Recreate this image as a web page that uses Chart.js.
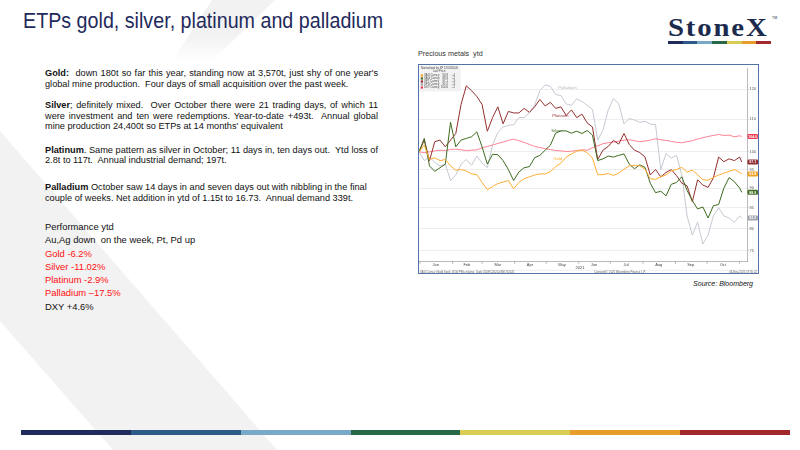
<!DOCTYPE html>
<html>
<head>
<meta charset="utf-8">
<title>ETPs gold, silver, platinum and palladium</title>
<script src="https://cdn.jsdelivr.net/npm/chart.js"></script>
<style>
  body {
    margin: 0;
    width: 800px;
    height: 450px;
    overflow: hidden;
    background: #fff;
    position: relative;
    font-family: "Liberation Sans", Arial, sans-serif;
  }
  #bg { position: absolute; left: 0; top: 0; }
  #title {
    position: absolute; left: 23px; top: 10px;
    font-size: 22px; line-height: 22px; color: #1f2a5c;
    white-space: nowrap; transform: scaleX(0.895); transform-origin: 0 0;
  }
  #logo {
    position: absolute; left: 668px; top: 15px;
    font-family: "Liberation Serif", "DejaVu Serif", serif; font-weight: bold;
    font-size: 25px; line-height: 25px; letter-spacing: 1.6px; color: #1c2b4d;
    white-space: nowrap; transform: scaleX(1.15); transform-origin: 0 0;
  }
  #tm { position: absolute; left: 772px; top: 16px; font-size: 3.5px; color: #1c2b4d; }
  .bar { position: absolute; display: flex; }
  .bar div { flex: 1; }
  .ln {
    position: absolute; left: 45px; width: 333px;
    font-size: 9.2px; line-height: 11px; color: #111; white-space: nowrap;
  }
  .j { text-align: justify; text-align-last: justify; }
  .pf { font-size: 9.4px; line-height: 12px; }
  .red { color: #ff1010; }
  #ctitle { position: absolute; left: 418px; top: 49px; font-size: 7.2px; color: #333; white-space: nowrap; }
  #source { position: absolute; right: 47px; top: 280px; font-size: 7px; font-style: italic; color: #111; }
  #frame {
    position: absolute; left: 418px; top: 64px; width: 341px; height: 210px;
    border: 1px solid #5373a8; box-sizing: border-box; background: #fff;
  }
  #box { position: relative; width: 339px; height: 208px; }
</style>
</head>
<body>
<svg id="bg" width="800" height="450">
  <defs>
    <linearGradient id="fade" x1="0" y1="0" x2="0" y2="1">
      <stop offset="0.6" stop-color="#f2f2f2" stop-opacity="1"/>
      <stop offset="1" stop-color="#f2f2f2" stop-opacity="0"/>
    </linearGradient>
  </defs>
  <polygon points="0,131 277,450 113,450 0,321" fill="#f2f2f2"/>
  <polygon points="212,0 275,0 213,60 173,60" fill="url(#fade)"/>
</svg>

<div id="title">ETPs gold, silver, platinum and palladium</div>

<div id="logo">StoneX</div>
<div id="tm">TM</div>
<div class="bar" style="left:668px;top:41px;width:103px;height:2.5px">
  <div style="background:#1f2b5b"></div><div style="background:#2e5a8a"></div><div style="background:#7aa8c8"></div>
  <div style="background:#276848"></div><div style="background:#d9cc55"></div><div style="background:#e79d2c"></div>
  <div style="background:#a3282d"></div>
</div>

<div class="ln j" style="top:67.8px"><b>Gold:</b>&nbsp; down 180t so far this year, standing now at 3,570t, just shy of one year's</div>
<div class="ln" style="top:78.5px">global mine production.&nbsp; Four days of small acquisition over the past week.</div>

<div class="ln j" style="top:99.5px"><b>Silver</b>; definitely mixed.&nbsp; Over October there were 21 trading days, of which 11</div>
<div class="ln j" style="top:110.5px">were investment and ten were redemptions. Year-to-date +493t.&nbsp; Annual global</div>
<div class="ln" style="top:121.2px">mine production 24,400t so ETPs at 14 months' equivalent</div>

<div class="ln j" style="top:144.5px"><b>Platinum</b>. Same pattern as silver in October; 11 days in, ten days out.&nbsp; Ytd loss of</div>
<div class="ln" style="top:155px">2.8t to 117t.&nbsp; Annual industrial demand; 197t.</div>

<div class="ln" style="top:182.3px"><b>Palladium</b> October saw 14 days in and seven days out with nibbling in the final</div>
<div class="ln" style="top:193px">couple of weeks. Net addition in ytd of 1.15t to 16.73.&nbsp; Annual demand 339t.</div>

<div class="ln pf" style="top:220.9px">Performance ytd</div>
<div class="ln pf" style="top:234.2px">Au,Ag down&nbsp; on the week, Pt, Pd up</div>
<div class="ln pf red" style="top:247.5px">Gold -6.2%</div>
<div class="ln pf red" style="top:260.8px">Silver -11.02%</div>
<div class="ln pf red" style="top:274.1px">Platinum -2.9%</div>
<div class="ln pf red" style="top:287.4px">Palladium –17.5%</div>
<div class="ln pf" style="top:300.7px">DXY +4.6%</div>

<div id="ctitle">Precious metals&nbsp; ytd</div>
<div id="frame"><div id="box"><canvas id="chart"></canvas></div></div>
<div id="source">Source: Bloomberg</div>

<div class="bar" style="left:21px;top:430px;width:769px;height:5px">
  <div style="background:#1f2b5b"></div><div style="background:#2e5a8a"></div><div style="background:#7aa8c8"></div>
  <div style="background:#276848"></div><div style="background:#d9cc55"></div><div style="background:#e79d2c"></div>
  <div style="background:#a3282d"></div>
</div>

<script>
  // days since 31 Dec 2020, values normalised to 100
  const days = [0, 5, 10, 15, 20, 25, 30, 35, 40, 45, 50, 55, 60, 65, 70, 75, 80, 85, 90, 95,
    100, 105, 110, 115, 120, 125, 130, 135, 140, 145, 150, 155, 160, 165, 170, 175, 180, 185, 190, 195,
    200, 205, 210, 215, 220, 225, 230, 235, 240, 245, 250, 255, 260, 265, 270, 275, 280, 285, 290, 295,
    300, 305, 307];

  const gold = [100, 102, 97.8, 98.3, 97.5, 97.8, 96, 94.8, 95, 94.6, 93.8, 93.6, 91.5, 89.6, 90.4, 91.2,
    91.6, 92, 89.8, 91.5, 92.5, 93, 93.5, 93.8, 93.8, 94.4, 95.8, 96.8, 98.5, 99.4, 100.2, 100.5, 99.8,
    98.2, 93.6, 93.6, 93.9, 93.4, 94, 95.1, 96, 96.2, 96, 95.1, 92.5, 92.3, 93, 93.5, 94.6, 95, 95.6,
    94.3, 94.8, 93.6, 92.2, 92.1, 92.8, 93.5, 94, 94.5, 95, 94.2, 93.8];

  const silver = [100, 104, 96, 94.5, 95.5, 96.5, 109, 101.5, 103.5, 104, 104.5, 106, 101.5, 96.5, 99.3,
    99.2, 97.5, 95, 92, 94.3, 95.5, 95.8, 98.3, 99, 100.5, 102, 105.6, 106.3, 106.3, 105.6, 106.2, 105.5,
    106.4, 105, 97.5, 98, 98.8, 98.5, 99, 99.4, 96.5, 95.2, 96.3, 95.6, 91.3, 88.8, 89.2, 88, 91, 91.5,
    93, 89.4, 86.8, 84.7, 85.2, 82.5, 85.5, 85.8, 90, 92.8, 91.7, 90, 88.9];

  const platinum = [100, 103.5, 97.5, 103, 103.5, 101.5, 103.5, 105.5, 114.8, 121.2, 119.5, 117.5, 114.8,
    106.2, 110.5, 114, 108.5, 112.5, 112, 112, 113.5, 112.2, 114, 116.5, 114.3, 115.5, 113.5, 114, 111.2,
    113, 110.5, 111.6, 108.8, 107.5, 97.8, 100.5, 101.6, 103.4, 102.3, 105.5, 102.2, 100.5, 99.8, 98.5,
    93.5, 95, 93, 94.2, 95, 93.3, 91.3, 90.6, 86.5, 92.2, 90.8, 90.2, 92.7, 98.5, 97.2, 98, 97.5, 98.5, 97.1];

  const palladium = [100, 97.5, 98.5, 97, 96, 96.5, 92, 93.5, 96.5, 97.8, 96.2, 98.8, 96.8, 95.5, 102,
    105.8, 107.5, 108, 108.2, 110.5, 110.5, 112, 114.6, 119.5, 121.5, 121, 118.2, 117.8, 115, 114.5, 116.7,
    115.8, 114.5, 113.2, 103.5, 106.5, 113, 116.8, 115, 108.5, 110.2, 109.7, 109, 109.3, 108.4, 108.3, 95,
    99.5, 98.2, 99, 93.5, 83, 78.5, 81.5, 76.5, 78.5, 83, 85, 83, 82.5, 81.5, 83, 82.5];

  const dxy = [100, 99.8, 100, 100.3, 100.5, 100.4, 100.7, 100.8, 100.6, 100.4, 100.5, 100.6, 101.2, 101.6,
    102, 102.5, 102.9, 103.4, 103.8, 103.3, 102.8, 102.2, 101.6, 101.3, 100.9, 100.7, 100.4, 100.3, 100.1,
    100.2, 100.4, 100.6, 100.5, 101.2, 101.8, 102.4, 102.7, 102.9, 103.2, 103.5, 103.6, 103.3, 103, 103.2,
    103.5, 103.9, 103.6, 103.4, 103.1, 102.8, 102.7, 103, 103.3, 103.8, 104.2, 104.6, 104.9, 105.2, 104.9,
    105, 104.5, 104.8, 104.6];

  const monthNames = ['Jan', 'Feb', 'Mar', 'Apr', 'May', 'Jun', 'Jul', 'Aug', 'Sep', 'Oct'];
  const monthMid = [16, 45.5, 75, 105.5, 136, 166.5, 197, 228, 258.5, 289];
  const monthStart = [1, 32, 60, 91, 121, 152, 182, 213, 244, 274, 305];
  const yTicks = [75, 80, 85, 90, 95, 100, 110, 120];

  const names = ['Gold', 'Silver', 'Platinum', 'Palladium', 'DXY'];
  const tickers = ['XAU Curncy', 'XAG Curncy', 'XPT Curncy', 'XPD Curncy', 'DXY Curncy'];
  const changes = ['-.4', '-.2', '-.3', '-.3', '-.2'];
  const colors = ['#ffad33', '#3f6b1f', '#93302f', '#c4c9d2', '#ff8294'];
  const tagColors = ['#f3a022', '#3f6b1f', '#8e2d2c', '#9ea3ab', '#ec3a50'];
  const series = [gold, silver, platinum, palladium, dxy];
  const drawOrder = [0, 1, 2, 4, 3];

  // in-chart name labels: [name index, day, value]
  const nameTags = [[3, 132.5, 120.4], [2, 126.8, 111.2], [1, 125.9, 106.2], [0, 127.8, 98.0]];

  const FONT = '"Liberation Sans", Arial, sans-serif';

  const overlay = {
    id: 'overlay',
    afterDraw(chart) {
      const { ctx, chartArea: a, scales: { x, y } } = chart;
      ctx.save();

      // month separators on the time axis
      ctx.strokeStyle = '#999';
      ctx.lineWidth = 0.6;
      monthStart.forEach(d => {
        const px = x.getPixelForValue(d);
        ctx.beginPath();
        ctx.moveTo(px, a.bottom);
        ctx.lineTo(px, a.bottom + 3);
        ctx.stroke();
      });

      ctx.fillStyle = '#444';
      ctx.font = '4px ' + FONT;
      ctx.textAlign = 'center';
      ctx.textBaseline = 'middle';
      ctx.fillText('2021', (a.left + a.right) / 2 - 3, a.bottom + 7);

      // footer strip
      ctx.strokeStyle = '#ddd';
      ctx.lineWidth = 0.5;
      ctx.beginPath();
      ctx.moveTo(0, a.bottom + 9.3);
      ctx.lineTo(chart.width, a.bottom + 9.3);
      ctx.stroke();
      ctx.fillStyle = '#666';
      ctx.font = '2.8px ' + FONT;
      ctx.textAlign = 'left';
      ctx.fillText('XAU Curncy (Gold Spot)  8/16/ PMs relative  Daily 31DEC2020-03NOV2021', 1, a.bottom + 10.8);
      ctx.textAlign = 'center';
      ctx.fillText('Copyright\u00a9 2021 Bloomberg Finance L.P.', 201, a.bottom + 10.8);
      ctx.textAlign = 'right';
      ctx.fillText('03-Nov-2021 07:35:22', chart.width - 1, a.bottom + 10.8);

      // series names inside the plot
      ctx.font = '4.2px ' + FONT;
      ctx.textAlign = 'left';
      nameTags.forEach(([i, d, v]) => {
        ctx.fillStyle = i === 3 ? '#b3b8c2' : colors[i];
        ctx.fillText(names[i], x.getPixelForValue(d), y.getPixelForValue(v));
      });

      // last value tags on the right axis
      ctx.font = 'bold 3.6px ' + FONT;
      ctx.textAlign = 'center';
      series.forEach((s, i) => {
        const last = s[s.length - 1];
        const py = y.getPixelForValue(last);
        const x0 = a.right + 0.5, w = 10.5, h = 5;
        ctx.fillStyle = tagColors[i];
        ctx.beginPath();
        ctx.roundRect(x0, py - h / 2, w, h, 1.3);
        ctx.fill();
        ctx.fillStyle = '#fff';
        ctx.fillText(last.toFixed(1), x0 + w / 2, py + 0.2);
      });

      // legend box, top left
      ctx.fillStyle = '#f2f2f2';
      ctx.fillRect(0.5, 0.5, 41, 26);
      ctx.fillStyle = '#444';
      ctx.font = '2.8px ' + FONT;
      ctx.textAlign = 'left';
      ctx.fillText('Normalized by XF 12/31/2020', 2, 3);
      ctx.fillText('Last Price', 14, 6.5);
      series.forEach((s, i) => {
        const ry = 10.5 + i * 3;
        ctx.fillStyle = tagColors[i];
        ctx.fillRect(1.8, ry - 1.1, 2.2, 2.2);
        ctx.fillStyle = '#444';
        ctx.textAlign = 'left';
        ctx.fillText(tickers[i], 5, ry);
        ctx.textAlign = 'right';
        ctx.fillText(s[s.length - 1].toFixed(1), 29, ry);
        ctx.fillText(changes[i], 36, ry);
      });

      ctx.restore();
    }
  };

  new Chart(document.getElementById('chart'), {
    type: 'line',
    data: {
      labels: days,
      datasets: series.map((s, i) => ({
        label: names[i],
        data: s,
        borderColor: colors[i],
        borderWidth: 1,
        pointRadius: 0,
        tension: 0,
        fill: false,
        order: drawOrder[i]
      }))
    },
    options: {
      responsive: true,
      maintainAspectRatio: false,
      animation: false,
      events: [],
      layout: { padding: 0 },
      plugins: { legend: { display: false }, tooltip: { enabled: false } },
      scales: {
        x: {
          type: 'linear',
          min: 0,
          max: 312,
          afterBuildTicks: s => { s.ticks = monthMid.map(v => ({ value: v })); },
          afterFit: s => { s.height = 12; },
          grid: { display: false, drawTicks: false },
          border: { display: true, color: '#aaa', width: 0.8 },
          ticks: {
            font: { size: 4, family: FONT },
            color: '#444',
            padding: 1.2,
            autoSkip: false,
            maxRotation: 0,
            callback: (v, i) => monthNames[i]
          }
        },
        y: {
          type: 'logarithmic',
          position: 'right',
          min: 72.8,
          max: 127.5,
          afterBuildTicks: s => { s.ticks = yTicks.map(v => ({ value: v })); },
          afterFit: s => { s.width = 11; },
          grid: { color: '#e6e6e6', lineWidth: 0.7, drawTicks: true, tickLength: 1.5, tickColor: '#999' },
          border: { display: true, color: '#aaa', width: 0.8 },
          ticks: {
            font: { size: 4, family: FONT },
            color: '#555',
            padding: 1,
            autoSkip: false,
            callback: v => String(v)
          }
        }
      }
    },
    plugins: [overlay]
  });
</script>
</body>
</html>
